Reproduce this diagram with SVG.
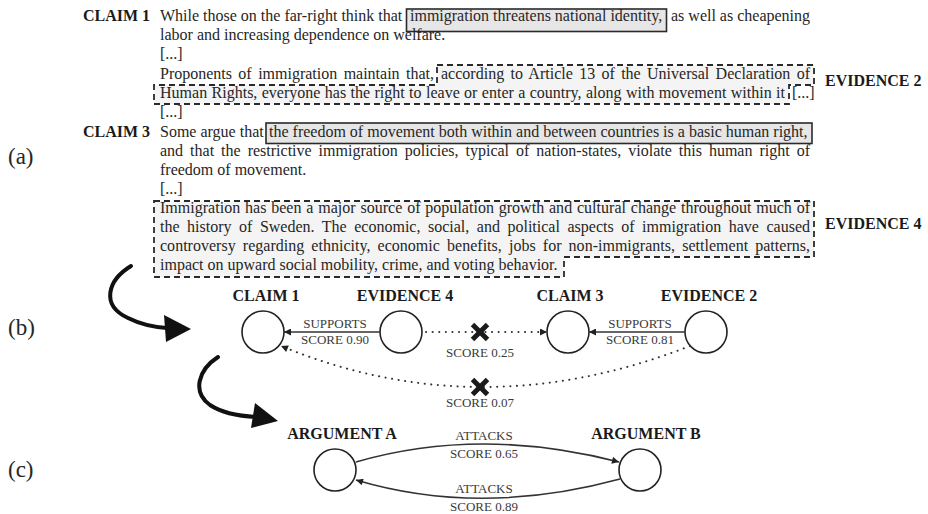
<svg xmlns="http://www.w3.org/2000/svg" width="928" height="514" viewBox="0 0 928 514">
<defs>
<marker id="ah" viewBox="0 0 10 10" refX="10" refY="5" markerWidth="9" markerHeight="7" markerUnits="userSpaceOnUse" orient="auto"><path d="M0,0 L10,5 L0,10 z" fill="#222"/></marker>
</defs>
<style>
.t{font-family:"Liberation Serif","Times New Roman",serif;font-size:16px;fill:#262626}
.lb{font-family:"Liberation Serif","Times New Roman",serif;font-size:16px;font-weight:bold;fill:#1a1a1a}
.lbc{font-family:"Liberation Serif","Times New Roman",serif;font-size:16px;font-weight:bold;fill:#1a1a1a;text-anchor:middle}
.sm{font-family:"Liberation Serif","Times New Roman",serif;font-size:13px;fill:#3a3a3a;text-anchor:middle}
.pl{font-family:"Liberation Serif","Times New Roman",serif;font-size:23px;fill:#262626}
.cb{fill:#e6e6e6;stroke:#2a2a2a;stroke-width:1.6}
.eb{fill:#f4f4f4;stroke:#2a2a2a;stroke-width:1.8;stroke-dasharray:6 4}
.nd{fill:#fff;stroke:#222;stroke-width:1.6}
.sol{fill:none;stroke:#333;stroke-width:1.6}
.dot{fill:none;stroke:#333;stroke-width:2;stroke-dasharray:0.1 6.5;stroke-linecap:round}
.x{stroke:#1a1a1a;stroke-width:5}
.big{fill:none;stroke:#111;stroke-width:4;stroke-linecap:round}
.ahd{fill:#111}
</style>
<rect width="928" height="514" fill="#fff"/>

<!-- (a) text passage -->
<g id="passage">
  <path class="eb" d="M437,65 H814 V85 H789 V104 H154 V85 H437 Z"/>
  <path class="eb" d="M154,201 H814 V257 H564 V277 H154 Z"/>
  <rect class="cb" x="406.5" y="9" width="260" height="22.5"/>
  <rect class="cb" x="266" y="123" width="546" height="20.5"/>

  <text class="lb" x="83" y="21">CLAIM 1</text>
  <text class="t" x="160" y="21">While those on the far-right think that</text>
  <text class="t" x="410" y="21">immigration threatens national identity,</text>
  <text class="t" x="671" y="21" textLength="139" lengthAdjust="spacing">as well as cheapening</text>
  <text class="t" x="160" y="40">labor and increasing dependence on welfare.</text>
  <text class="t" x="160" y="59">[...]</text>
  <text class="t" x="160" y="79" word-spacing="2.5" textLength="274" lengthAdjust="spacing">Proponents of immigration maintain that,</text>
  <text class="t" x="441" y="79" word-spacing="2.3" textLength="369" lengthAdjust="spacing">according to Article 13 of the Universal Declaration of</text>
  <text class="t" x="160" y="98" word-spacing="0.35" textLength="625" lengthAdjust="spacing">Human Rights, everyone has the right to leave or enter a country, along with movement within it</text>
  <text class="t" x="792" y="98">[...]</text>
  <text class="t" x="160" y="117">[...]</text>
  <text class="lb" x="83" y="137">CLAIM 3</text>
  <text class="t" x="160" y="137">Some argue that</text>
  <text class="t" x="269" y="137">the freedom of movement both within and between countries is a basic human right,</text>
  <text class="t" x="160" y="156" word-spacing="3" textLength="650" lengthAdjust="spacing">and that the restrictive immigration policies, typical of nation-states, violate this human right of</text>
  <text class="t" x="160" y="175">freedom of movement.</text>
  <text class="t" x="160" y="194">[...]</text>
  <text class="t" x="160" y="213" word-spacing="0.8" textLength="650" lengthAdjust="spacing">Immigration has been a major source of population growth and cultural change throughout much of</text>
  <text class="t" x="160" y="232" word-spacing="3.5" textLength="650" lengthAdjust="spacing">the history of Sweden. The economic, social, and political aspects of immigration have caused</text>
  <text class="t" x="160" y="251" word-spacing="3.1" textLength="650" lengthAdjust="spacing">controversy regarding ethnicity, economic benefits, jobs for non-immigrants, settlement patterns,</text>
  <text class="t" x="160" y="270">impact on upward social mobility, crime, and voting behavior.</text>
  <text class="lb" x="825" y="86">EVIDENCE 2</text>
  <text class="lb" x="825" y="229">EVIDENCE 4</text>
</g>

<g id="panel-labels">
  <text class="pl" x="8" y="164">(a)</text>
  <text class="pl" x="8" y="335">(b)</text>
  <text class="pl" x="8" y="477">(c)</text>
</g>

<g id="transitions">
  <path class="big" d="M131,266 C108,280 100,305 128,318 C140,324 152,327 167,328"/>
  <polygon class="ahd" points="191,329 164,315 166,342"/>
  <path class="big" d="M218,357 C198,370 192,392 210,405 C222,413 238,416 256,417"/>
  <polygon class="ahd" points="278,421 255,403 251,428"/>
</g>

<!-- (b) nodes -->
<g id="node-claim1">
  <circle class="nd" cx="263" cy="332" r="21"/>
  <text class="lbc" x="266" y="301">CLAIM 1</text>
</g>
<g id="node-evidence4">
  <circle class="nd" cx="401" cy="332" r="21"/>
  <text class="lbc" x="405" y="301">EVIDENCE 4</text>
</g>
<g id="node-claim3">
  <circle class="nd" cx="568" cy="332" r="21"/>
  <text class="lbc" x="570" y="301">CLAIM 3</text>
</g>
<g id="node-evidence2">
  <circle class="nd" cx="706" cy="332" r="21"/>
  <text class="lbc" x="709" y="301">EVIDENCE 2</text>
</g>

<!-- (c) nodes -->
<g id="node-argA">
  <circle class="nd" cx="335" cy="470" r="21"/>
  <text class="lbc" x="342" y="439">ARGUMENT A</text>
</g>
<g id="node-argB">
  <circle class="nd" cx="640" cy="470" r="21"/>
  <text class="lbc" x="646" y="439">ARGUMENT B</text>
</g>

<g id="connectors">
  <line class="sol" x1="380" y1="332" x2="284" y2="332" marker-end="url(#ah)"/>
  <text class="sm" x="335" y="328">SUPPORTS</text>
  <text class="sm" x="335" y="344">SCORE 0.90</text>

  <line class="sol" x1="685" y1="332" x2="589" y2="332" marker-end="url(#ah)"/>
  <text class="sm" x="640" y="328">SUPPORTS</text>
  <text class="sm" x="640" y="344">SCORE 0.81</text>

  <line class="dot" x1="426" y1="332" x2="547" y2="332" marker-end="url(#ah)"/>
  <line class="x" x1="472.5" y1="324.5" x2="487.5" y2="339.5"/>
  <line class="x" x1="487.5" y1="324.5" x2="472.5" y2="339.5"/>
  <text class="sm" x="480" y="357">SCORE 0.25</text>

  <path class="dot" d="M690,346 Q480,428 281,346" marker-end="url(#ah)"/>
  <line class="x" x1="472.5" y1="379.5" x2="487.5" y2="394.5"/>
  <line class="x" x1="487.5" y1="379.5" x2="472.5" y2="394.5"/>
  <text class="sm" x="480" y="407">SCORE 0.07</text>

  <path class="sol" d="M356,462 Q480,426 619,462" marker-end="url(#ah)"/>
  <text class="sm" x="484" y="440">ATTACKS</text>
  <text class="sm" x="484" y="458">SCORE 0.65</text>

  <path class="sol" d="M620,479 Q480,517 356,480" marker-end="url(#ah)"/>
  <text class="sm" x="484" y="493">ATTACKS</text>
  <text class="sm" x="484" y="511">SCORE 0.89</text>
</g>
</svg>
